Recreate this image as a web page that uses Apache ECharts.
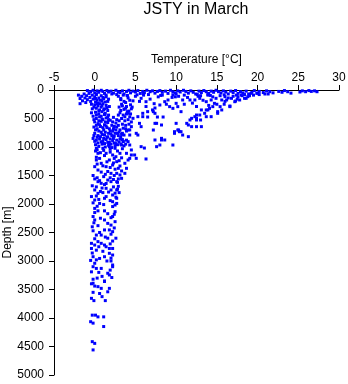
<!DOCTYPE html>
<html>
<head>
<meta charset="utf-8">
<script src="https://cdn.jsdelivr.net/npm/echarts@6/dist/echarts.min.js"></script>
<style>
  html, body { margin: 0; padding: 0; background: #fff; }
  #main { width: 348px; height: 384px; }
</style>
</head>
<body>
<div id="main"></div>
<script>
// tick values of both axes
var tempTicks = [-5, 0, 5, 10, 15, 20, 25, 30]
var depthTicks = [0, 500, 1000, 1500, 2000, 2500, 3000, 3500, 4000, 4500, 5000]

// [temperature, depth], grouped by region
var surfaceLayer = [
  [-0.9,10],[-0.5,30],[-0.2,5],[0.0,50],[0.3,15],[0.5,40],[0.8,5],[1.0,25],[1.2,60],[1.5,10],
  [1.7,35],[2.0,20],[2.3,55],[2.6,5],[2.9,30],[3.1,45],[3.4,15],[3.6,70],[3.9,25],[4.2,5],
  [4.4,50],[4.7,20],[5.0,35],[5.3,10],[5.6,60],[5.9,25],[6.1,45],[6.4,5],[6.8,30],[7.1,15],
  [7.4,55],[7.7,25],[8.0,10],[8.3,40],[8.7,20],[9.0,60],[9.3,5],[9.6,30],[9.9,50],[10.2,15],
  [10.5,35],[10.9,5],[11.2,25],[11.5,55],[11.8,15],[12.1,40],[12.4,70],[12.8,20],[13.1,45],[13.4,10],
  [13.7,30],[14.0,60],[14.3,20],[14.6,40],[14.9,5],[15.2,30],[15.5,50],[15.8,15],[16.1,35],[16.4,70],
  [16.7,20],[17.0,45],[17.3,10],[17.6,60],[17.9,30],[18.2,50],[18.6,20],[18.9,70],[19.3,40],[19.6,10],
  [20.0,55],[20.2,25],[20.7,45],[21.1,15],[21.5,30],[21.9,50],[22.6,25],[23.0,40],[23.3,10],[23.7,30],
  [24.1,55],[25.2,35],[25.5,15],[25.9,30],[26.3,10],[26.6,25],[27.0,15],[27.3,30],
  [0.2,80],[1.4,90],[2.7,80],[4.0,95],[5.2,85],[6.6,80],[8.1,95],[9.6,85],[11.0,90],[12.6,80],
  [14.2,95],[15.9,85],[17.4,90],[19.0,100],[2.1,70],[6.0,65],[10.0,70],[13.9,75],[18.4,80],[21.3,70]
]

var coldCluster = [
  [-2.0,90],[-1.8,150],[-1.8,240],[-1.6,110],[-1.5,190],[-1.3,70],[-1.2,140],[-1.1,220],[-1.0,100],
  [-0.9,170],[-0.7,60],[-0.6,130],[-0.5,200],[-0.4,250],[-0.3,90],[-0.2,160],[0.0,120],[0.1,210],
  [0.2,70],[0.3,180],[0.5,140],[0.6,240],[0.8,100],[0.9,190],[1.1,150],[1.4,120],[1.6,200]
]

var upperColumn = [
  [0.0,260],[0.2,320],[0.4,280],[0.6,350],[0.8,300],[1.0,240],[1.2,330],[1.4,270],[1.6,360],[1.8,290],
  [0.1,390],[0.5,420],[0.9,380],[1.3,410],[1.7,440],[-0.2,460],[0.2,500],[0.6,470],[1.0,520],[1.4,490],
  [1.9,530],[2.3,480],[0.0,560],[0.4,590],[0.8,550],[1.2,610],[1.6,570],[2.1,620],[2.6,580],[3.0,540],
  [2.9,110],[3.2,170],[3.5,90],[3.8,220],[4.1,140],[4.4,260],[4.7,190],[3.0,300],[3.3,250],[3.6,340],
  [3.9,290],[4.2,370],[4.5,330],[3.1,400],[3.5,440],[3.9,420],[4.3,470],
  [-0.1,650],[0.3,680],[0.7,640],[1.1,700],[1.5,660],[1.9,720],[2.3,680],[2.7,650],[3.1,700],[3.5,670],
  [3.9,720],[0.0,760],[0.4,800],[0.8,740],[1.2,790],[1.6,820],[2.0,770],[2.4,810],[2.8,760],[3.2,830],
  [3.6,790],[-0.2,850],[0.2,880],[0.6,860],[1.0,900],[1.4,870],[1.8,920],[2.2,890],[2.6,940],[3.0,910],
  [3.4,870],[3.8,950],[0.1,960],[0.5,990],[0.9,950],[1.3,1000],[1.7,970],[2.1,1010],[2.5,980]
]

var upperFill = [
  [0.1,150],[0.4,230],[0.7,180],[1.0,130],[1.3,210],[1.7,160],[-0.1,300],[0.3,240],[0.9,270],[1.5,310],
  [1.1,350],[0.5,370],[0.2,440],[0.8,460],[1.2,430],[1.6,470],[-0.1,520],[0.5,540],[0.9,510],
  [1.3,560],[1.7,520],[2.2,560],[2.7,520],[3.3,500],[3.7,540],[4.1,520],[4.5,560],[3.4,600],[3.8,620],
  [4.2,600],[2.9,620],[2.4,640],[0.2,620],[0.6,610],[1.0,660],[1.4,630],[1.8,680],[2.2,720],[2.6,700],
  [3.0,740],[3.4,760],[3.8,680],[4.3,700],[0.1,700],[0.5,720],[0.9,780],[1.3,740],[1.7,760],[2.1,800],
  [2.5,760],[2.9,800],[3.3,780],[-0.1,800],[0.3,830],[0.7,820],[1.1,850],[1.5,830],[1.9,860],[2.3,850],
  [2.7,880],[3.1,860],[3.5,900],[3.9,880],[0.0,900],[0.4,930],[0.8,910],[1.2,940],[1.6,920],[2.0,950],
  [2.4,930],[2.8,960],[3.2,950],[3.6,980],[0.3,1050],[1.1,1060],[1.9,1040],[2.8,1070],[3.4,1030],[3.2,150],
  [3.6,200],[4.0,100],[4.3,180],[3.4,280],[3.8,320],[4.6,300],[4.0,380],[3.2,360],[4.4,420],[2.9,440],
  [3.7,470],[-0.3,330],[-0.4,400]
]

var warmFan = [
  [5.7,146],[6.3,205],[7.4,316],[7.1,350],[6.5,474],[5.9,468],[7.7,474],[8.4,474],[5.7,643],[7.4,877],
  [8.2,877],[8.0,965],[5.7,994],[6.1,1018],[7.6,994],[9.6,965],[9.8,731],[10.3,702],[10.6,731],[10.8,790],
  [11.5,819],[11.5,614],[11.3,585],[11.9,643],[12.5,643],[11.9,497],[12.5,497],[12.3,468],[13.0,526],[13.7,468],
  [14.3,468],[15.1,380],[13.1,350],[13.7,350],[14.1,322],[9.2,292],[9.6,322],[10.0,234],[10.6,380],[10.2,292],
  [8.0,263],[8.6,205],[9.0,175],[10.8,175],[11.7,175],[12.3,175],[12.9,146],[13.7,205],[14.3,175],[14.7,234],
  [14.9,146],[7.2,380],[7.4,409],[7.6,585],[10.4,731],[8.2,848],[8.6,877],[12.5,439],[12.9,439],[12.5,526],
  [11.7,526],[13.1,643],[13.5,409],[13.9,350],[14.5,292],[15.1,409],[16.6,281],[17.3,193],[17.8,175],[18.6,146],
  [19.0,88],[19.9,58],[20.9,70],[15.6,175],[16.0,117],[16.6,292],[17.2,205],[17.6,117],[18.4,146],[18.8,117],
  [15.6,350],[15.4,292],[16.2,175],[16.8,146],[18.0,88],[19.2,58],[4.1,409],[4.7,497],[5.3,468],[5.9,409],
  [6.5,380],[5.5,585],[4.5,643],[4.1,702],[5.1,760],[4.3,790],[5.3,790],[7.4,585],[7.2,702],[8.2,614],
  [10.0,585],[9.8,760],[10.2,702],[4.3,965],[4.5,1052],[4.9,1140],[4.3,1199],[5.1,1199],[6.3,1210],[4.1,906],
  [3.5,906],[4.5,1140]
]

var warmFill = [
  [5.0,110],[5.5,200],[6.0,90],[6.8,160],[7.3,240],[7.8,120],[8.3,90],[9.5,130],[10.3,110],[11.0,250],
  [11.4,130],[12.0,230],[12.7,110],[13.3,180],[13.9,90],[14.5,120],[15.0,250],[15.4,100],[16.0,200],[16.4,140],
  [17.0,110],[17.5,160],[18.1,100],[19.5,90],[20.2,80],[8.8,250],[12.5,290],[14.0,270],[15.9,250],[6.3,290],
  [9.9,120],[13.0,100]
]

var midColumn = [
  [0.2,1023],[1.0,1023],[1.8,994],[2.5,1023],[3.3,965],[0.4,1111],[1.4,1111],[2.2,1140],[3.1,1111],[3.9,1111],
  [0.2,1228],[0.8,1286],[1.8,1228],[2.7,1257],[4.1,1228],[3.7,1286],[0.0,1345],[0.4,1404],[1.4,1345],[2.2,1316],
  [2.9,1374],[3.1,1333],[3.9,1374],[2.0,1462],[2.7,1462],[3.1,1491],[3.7,1462],[3.3,1550],[0.4,1608],[0.8,1637],
  [2.0,1608],[2.7,1608],[0.0,1754],[0.4,1813],[1.4,1725],[2.0,1754],[2.7,1754],[2.2,1842],[1.2,1900],[0.0,1930],
  [2.2,1959],[2.5,2018],[0.0,2077],[-0.2,1500],[0.3,1540],[1.1,1520],[1.6,1580],[-0.3,1680],[2.9,1690],[1.0,1800],
  [2.6,1880],[0.6,1990],[-0.4,1870],[1.6,1430],[0.2,1180],[2.4,1200],[3.0,1800],[2.9,1560],[1.2,1660],
  [0.1,1070],[0.7,1100],[1.2,1150],[1.9,1090],[2.6,1170],[3.3,1190],[0.6,1200],[1.5,1260],[2.3,1280],[3.0,1240],
  [0.3,1300],[1.0,1330],[1.9,1360],[2.5,1390],[3.3,1420],[0.8,1440],[1.3,1480],[2.4,1500],[0.0,1560],[0.6,1590],
  [1.9,1540],[2.3,1570],[2.8,1620],[1.4,1640],[0.2,1700],[0.9,1720],[2.3,1700],[2.8,1740],[0.7,1780],[1.7,1790],
  [2.5,1810],[0.2,1860],[1.4,1870],[2.7,1900],[0.5,1920],[1.9,1940],[-0.2,1980],[2.7,1990],[1.1,2010],[0.3,2040]
]

var deepColumn = [
  [0.4,2120],[1.2,2120],[2.2,2045],[2.5,2135],[2.2,2220],[-0.2,2220],[0.0,2280],[1.2,2280],[2.5,2310],[2.0,2370],
  [1.2,2455],[1.8,2455],[2.2,2485],[0.2,2545],[0.8,2545],[-0.4,2690],[0.0,2720],[0.4,2660],[0.8,2690],[1.2,2720],
  [1.4,2750],[1.8,2780],[2.2,2780],[-0.4,2780],[0.2,2810],[1.8,2865],[2.2,2895],[-0.2,2925],[0.2,2980],[0.6,2955],
  [1.2,2925],[2.2,3070],[-0.2,3100],[0.2,3130],[0.8,3130],[2.2,3100],[-0.4,3190],[1.6,3215],[1.8,3245],[1.2,3350],
  [-0.2,3390],[2.4,2180],[-0.3,2400],[2.6,2600],[1.6,2600],[-0.5,2990],[2.0,3000],[0.3,3300],
  [0.0,2150],[1.6,2170],[2.0,2240],[0.7,2250],[-0.1,2330],[1.6,2340],[0.4,2380],[2.4,2420],[-0.2,2470],[0.6,2500],
  [2.0,2530],[1.3,2580],[0.0,2610],[2.2,2650],[1.9,2700],[0.5,2750],[1.0,2830],[-0.3,2860],[2.0,2950],[1.5,3000],
  [0.0,3040],[1.9,3160],[0.5,3200],[2.1,3290],[0.9,3270],[-0.2,3320]
]

var abyss = [
  [-0.4,3400],[0.0,3440],[0.4,3450],[0.8,3480],[1.2,3360],[1.8,3480],[1.6,3540],[-0.2,3550],[0.6,3570],[0.9,3625],
  [-0.4,3655],[-0.1,3695],[1.3,3695],[-0.3,3950],[0.1,3950],[0.4,3980],[1.1,3980],[-0.5,4065],[-0.2,4090],[1.1,4150],
  [-0.3,4415],[0.0,4445],[-0.2,4560]
]

var chart = echarts.init(document.getElementById('main'))

var allPoints = [].concat(surfaceLayer, coldCluster, upperColumn, upperFill, warmFan, warmFill, midColumn, deepColumn, abyss)
var font = 'Liberation Sans, Arial, sans-serif'

var option = {
  animation: false,
  backgroundColor: '#fff',
  title: {
    text: 'JSTY in March',
    left: 196,
    top: 2,
    padding: 0,
    textAlign: 'center',
    textStyle: { fontFamily: font, fontSize: 16, fontWeight: 'normal', color: '#000' }
  },
  grid: { left: 54, right: 9, top: 90, bottom: 9, containLabel: false, outerBoundsMode: 'none' },
  xAxis: {
    type: 'value',
    position: 'top',
    min: tempTicks[0],
    max: tempTicks[tempTicks.length - 1],
    interval: 5,
    name: 'Temperature [°C]',
    nameLocation: 'middle',
    nameGap: 24,
    nameMoveOverlap: false,
    nameTextStyle: { fontFamily: font, fontSize: 12, color: '#000' },
    axisLine: { onZero: false, lineStyle: { color: '#000', width: 1 } },
    axisTick: { inside: false, length: 5, lineStyle: { color: '#000' } },
    axisLabel: { fontFamily: font, fontSize: 12, color: '#000', margin: 6 },
    splitLine: { show: false }
  },
  yAxis: {
    type: 'value',
    inverse: true,
    min: depthTicks[0],
    max: depthTicks[depthTicks.length - 1],
    interval: 500,
    name: 'Depth [m]',
    nameLocation: 'middle',
    nameGap: 40,
    nameMoveOverlap: false,
    nameTextStyle: { fontFamily: font, fontSize: 12, color: '#000' },
    axisLine: { onZero: false, lineStyle: { color: '#000', width: 1 } },
    axisTick: { inside: false, length: 5, lineStyle: { color: '#000' } },
    axisLabel: {
      fontFamily: font, fontSize: 12, color: '#000', margin: 10,
      formatter: function (v) { return String(v) }
    },
    splitLine: { show: false }
  },
  series: [{
    type: 'scatter',
    symbol: 'rect',
    symbolSize: 3,
    itemStyle: { color: '#0000ff', opacity: 1 },
    data: allPoints
  }]
}

chart.setOption(option)
</script>
</body>
</html>
